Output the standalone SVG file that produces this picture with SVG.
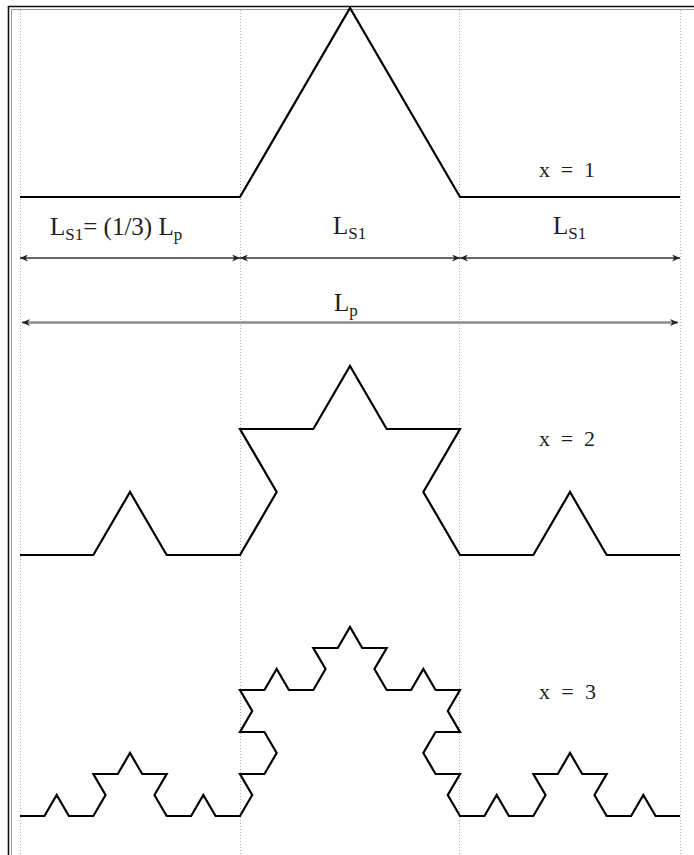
<svg xmlns="http://www.w3.org/2000/svg" width="694" height="855" viewBox="0 0 694 855">
  <style>
    .frame-dark { stroke: #111; stroke-width: 1.6; fill: none; }
    .frame-light { stroke: #9a9a9a; stroke-width: 1; fill: none; }
    .grid { stroke: #b0b0b0; stroke-width: 1; stroke-dasharray: 1 2; fill: none; }
    .koch { stroke: #000; stroke-width: 2.2; fill: none; stroke-linejoin: miter; stroke-miterlimit: 10; }
    .dim { stroke: #333; stroke-width: 1.4; fill: none; }
    .dim-total { stroke: #8c8c8c; stroke-width: 2.4; fill: none; }
    .lbl { font-family: "Liberation Serif", "Times New Roman", serif; fill: #1e1e1e; font-size: 25px; }
    .sub { font-size: 17px; }
    .xl { font-family: "Liberation Serif", "Times New Roman", serif; fill: #1e1e1e; font-size: 22px; }
  </style>
  <defs>
    <marker id="arr" viewBox="0 0 8 7" refX="8" refY="3.5" markerWidth="8" markerHeight="7" markerUnits="userSpaceOnUse" orient="auto-start-reverse">
      <path d="M0,0 L8,3.5 L0,7 L2.5,3.5 Z" fill="#222"/>
    </marker>
  </defs>
  <rect x="0" y="0" width="694" height="855" fill="#fff"/>

  <g id="frame">
    <line class="frame-dark" x1="8.5" y1="6" x2="8.5" y2="855"/>
    <line class="frame-light" x1="11.5" y1="9" x2="11.5" y2="855"/>
    <line class="frame-dark" x1="8" y1="6.5" x2="694" y2="6.5"/>
    <line class="frame-light" x1="11" y1="9.5" x2="694" y2="9.5"/>
  </g>

  <g id="grid">
    <line class="grid" x1="20.5" y1="10" x2="20.5" y2="855"/>
    <line class="grid" x1="240.5" y1="10" x2="240.5" y2="855"/>
    <line class="grid" x1="459.5" y1="10" x2="459.5" y2="855"/>
    <line class="grid" x1="680.5" y1="10" x2="680.5" y2="855"/>
  </g>

  <g id="curve-x1">
    <polyline class="koch" points="20,197 240,197 350,8 460,197 680,197"/>
  </g>

  <g id="curve-x2">
    <polyline class="koch" points="20,555 93.33,555 130,492 166.67,555 240,555 276.67,492 240,429 313.33,429 350,366 386.67,429 460,429 423.33,492 460,555 533.33,555 570,492 606.67,555 680,555"/>
  </g>

  <g id="curve-x3">
    <polyline class="koch" points="20,816 44.44,816 56.67,795 68.89,816 93.33,816 105.56,795 93.33,774 117.78,774 130,753 142.22,774 166.67,774 154.44,795 166.67,816 191.11,816 203.33,795 215.56,816 240,816 252.22,795 240,774 264.44,774 276.67,753 264.44,732 240,732 252.22,711 240,690 264.44,690 276.67,669 288.89,690 313.33,690 325.56,669 313.33,648 337.78,648 350,627 362.22,648 386.67,648 374.44,669 386.67,690 411.11,690 423.33,669 435.56,690 460,690 447.78,711 460,732 435.56,732 423.33,753 435.56,774 460,774 447.78,795 460,816 484.44,816 496.67,795 508.89,816 533.33,816 545.56,795 533.33,774 557.78,774 570,753 582.22,774 606.67,774 594.44,795 606.67,816 631.11,816 643.33,795 655.56,816 680,816"/>
  </g>

  <g id="connectors">
    <line class="dim" x1="20" y1="258" x2="240" y2="258" marker-start="url(#arr)" marker-end="url(#arr)"/>
    <line class="dim" x1="240" y1="258" x2="460" y2="258" marker-start="url(#arr)" marker-end="url(#arr)"/>
    <line class="dim" x1="460" y1="258" x2="680" y2="258" marker-start="url(#arr)" marker-end="url(#arr)"/>
    <line class="dim-total" x1="22" y1="322.5" x2="678" y2="322.5" marker-start="url(#arr)" marker-end="url(#arr)"/>
  </g>

  <g id="labels">
    <text class="lbl" x="50" y="235">L<tspan class="sub" dy="5">S1</tspan><tspan dy="-5">= (1/3) L</tspan><tspan class="sub" dy="5">p</tspan></text>
    <text class="lbl" x="333" y="234">L<tspan class="sub" dy="5">S1</tspan></text>
    <text class="lbl" x="553" y="234">L<tspan class="sub" dy="5">S1</tspan></text>
    <text class="lbl" x="334" y="311">L<tspan class="sub" dy="5">p</tspan></text>
    <text class="xl" x="539" y="177" textLength="56" lengthAdjust="spacing">x = 1</text>
    <text class="xl" x="539" y="446" textLength="56" lengthAdjust="spacing">x = 2</text>
    <text class="xl" x="539" y="699" textLength="57" lengthAdjust="spacing">x = 3</text>
  </g>
</svg>
